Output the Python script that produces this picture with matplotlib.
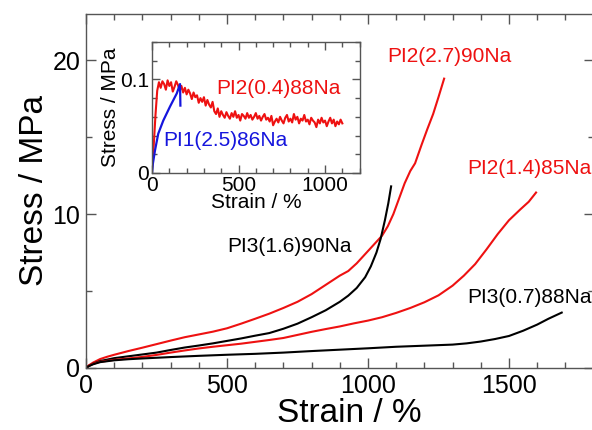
import numpy as np
import matplotlib
matplotlib.use("Agg")
import matplotlib.pyplot as plt
from matplotlib.ticker import MultipleLocator

plt.rcParams['font.family'] = ['Liberation Sans', 'DejaVu Sans']

# ---- main panel data (strain %, stress MPa) ----
pi2_27_x = [0, 10, 25, 50, 75, 100, 150, 200, 250, 300, 350, 400, 450, 500, 550, 600, 650, 700, 750,
            800, 850, 900, 930, 960, 990, 1020, 1050, 1070, 1090, 1110, 1130, 1150, 1167, 1190, 1210,
            1231, 1250, 1270]
pi2_27_y = [0, 0.17, 0.35, 0.58, 0.73, 0.86, 1.1, 1.32, 1.55, 1.78, 2.0, 2.18, 2.36, 2.58, 2.88, 3.2,
            3.53, 3.9, 4.3, 4.8, 5.4, 6.0, 6.3, 6.8, 7.4, 8.0, 8.6, 9.2, 10.0, 11.0, 12.0, 12.8, 13.3,
            14.5, 15.5, 16.5, 17.6, 18.8]

pi3_16_x = [0, 10, 25, 50, 100, 150, 200, 250, 300, 350, 400, 450, 500, 550, 600, 650, 700, 750, 800,
            850, 900, 930, 960, 990, 1010, 1030, 1045, 1060, 1072, 1082]
pi3_16_y = [0, 0.14, 0.28, 0.45, 0.64, 0.76, 0.88, 1.0, 1.17, 1.33, 1.46, 1.6, 1.76, 1.92, 2.1, 2.27,
            2.55, 2.88, 3.3, 3.75, 4.3, 4.7, 5.2, 5.9, 6.6, 7.5, 8.4, 9.6, 10.7, 11.8]

pi2_14_x = [0, 10, 25, 50, 100, 150, 200, 250, 300, 350, 400, 450, 500, 550, 600, 650, 700, 750, 800,
            850, 900, 950, 1000, 1050, 1100, 1150, 1200, 1250, 1300, 1340, 1380, 1420, 1460, 1500, 1540,
            1570, 1596]
pi2_14_y = [0, 0.14, 0.27, 0.40, 0.53, 0.62, 0.72, 0.85, 1.0, 1.14, 1.27, 1.38, 1.48, 1.58, 1.7, 1.82,
            1.95, 2.15, 2.35, 2.53, 2.7, 2.9, 3.08, 3.3, 3.58, 3.9, 4.27, 4.72, 5.35, 6.0, 6.75, 7.7,
            8.7, 9.6, 10.3, 10.8, 11.4]

pi3_07_x = [0, 10, 25, 50, 100, 150, 200, 300, 400, 500, 600, 700, 800, 900, 1000, 1100, 1200, 1300,
            1350, 1400, 1450, 1500, 1550, 1600, 1640, 1687]
pi3_07_y = [0, 0.12, 0.24, 0.38, 0.5, 0.57, 0.62, 0.71, 0.79, 0.86, 0.92, 1.0, 1.1, 1.19, 1.28, 1.38,
            1.45, 1.52, 1.6, 1.72, 1.88, 2.08, 2.42, 2.82, 3.2, 3.6]

main_labels = ["PI2(2.7)90Na", "PI2(1.4)85Na", "PI3(1.6)90Na", "PI3(0.7)88Na"]

# ---- inset data ----
pi1_25_x = [0, 5, 17, 36, 65, 104, 143, 162, 164]
pi1_25_y = [0.0, 0.010, 0.024, 0.042, 0.056, 0.071, 0.085, 0.095, 0.072]

pi2_04_x = list(range(0, 1101, 10))
pi2_04_y = [0.005, 0.030, 0.062, 0.088, 0.097, 0.091, 0.098, 0.095, 0.089, 0.099,
            0.093, 0.097, 0.087, 0.092, 0.098, 0.094, 0.088, 0.093, 0.086, 0.091,
            0.084, 0.089, 0.085, 0.079, 0.086, 0.081, 0.083, 0.075, 0.080, 0.076,
            0.081, 0.072, 0.078, 0.073, 0.070, 0.076, 0.066, 0.063, 0.069, 0.060,
            0.066, 0.062, 0.059, 0.065, 0.061, 0.058, 0.064, 0.060, 0.066, 0.059,
            0.062, 0.056, 0.063, 0.061, 0.058, 0.064, 0.059, 0.062, 0.057, 0.060,
            0.064, 0.058, 0.061, 0.056, 0.060, 0.063, 0.057, 0.059, 0.055, 0.061,
            0.051, 0.055, 0.058, 0.054, 0.060, 0.056, 0.053, 0.059, 0.062, 0.055,
            0.058, 0.054, 0.063, 0.057, 0.060, 0.053, 0.058, 0.056, 0.062, 0.055,
            0.057, 0.052, 0.059, 0.056, 0.054, 0.049, 0.057, 0.053, 0.059, 0.054,
            0.056, 0.050, 0.055, 0.059, 0.053, 0.057, 0.050, 0.055, 0.052, 0.057,
            0.053]

inset_labels = ["PI2(0.4)88Na", "PI1(2.5)86Na"]

RED = '#ee1111'
BLUE = '#1515dd'
SPINE = '#555555'

fig = plt.figure(figsize=(5.92, 4.30), dpi=100)
ax = fig.add_axes([0.14527, 0.14419, 0.8574, 0.82326])

ax.plot(pi2_27_x, pi2_27_y, color=RED, lw=1.5)
ax.plot(pi3_16_x, pi3_16_y, color='black', lw=1.5)
ax.plot(pi2_14_x, pi2_14_y, color=RED, lw=1.5)
ax.plot(pi3_07_x, pi3_07_y, color='black', lw=1.5)

ax.set_xlim(0, 1800)
ax.set_ylim(0, 23)
ax.xaxis.set_major_locator(MultipleLocator(500))
ax.xaxis.set_minor_locator(MultipleLocator(100))
ax.yaxis.set_major_locator(MultipleLocator(10))
ax.yaxis.set_minor_locator(MultipleLocator(5))
ax.tick_params(which='both', direction='in', top=True, right=True, color=SPINE,
               labelsize=18, width=1)
ax.tick_params(which='major', length=7, pad=4)
ax.tick_params(which='minor', length=4)
for s in ax.spines.values():
    s.set_color(SPINE)
    s.set_linewidth(1)
ax.set_xlabel("Strain / %", fontsize=24, labelpad=0)
ax.xaxis.set_label_coords(0.519, -0.085)
ax.set_ylabel("Stress / MPa", fontsize=24, labelpad=2)

ax.text(1067, 20.26, main_labels[0], color=RED, fontsize=15, va='center', ha='left')
ax.text(1351, 12.99, main_labels[1], color=RED, fontsize=15, va='center', ha='left')
ax.text(500, 7.92, main_labels[2], color='black', fontsize=15, va='center', ha='left')
ax.text(1351, 4.61, main_labels[3], color='black', fontsize=15, va='center', ha='left')

# inset
ins = fig.add_axes([0.2568, 0.5977, 0.3507, 0.3047])
ins.plot(pi2_04_x, pi2_04_y, color=RED, lw=1.5)
ins.plot(pi1_25_x, pi1_25_y, color=BLUE, lw=1.6)
ins.set_xlim(0, 1200)
ins.set_ylim(0, 0.14)
ins.xaxis.set_major_locator(MultipleLocator(500))
ins.xaxis.set_minor_locator(MultipleLocator(100))
ins.yaxis.set_minor_locator(MultipleLocator(0.02))
ins.set_yticks([0, 0.1])
ins.set_yticklabels(["0", "0.1"])
ins.tick_params(which='both', direction='in', top=True, right=True, color=SPINE,
                labelsize=15, width=1)
ins.tick_params(which='major', length=6, pad=2)
ins.tick_params(which='minor', length=3.5)
for s in ins.spines.values():
    s.set_color(SPINE)
    s.set_linewidth(1)
ins.set_xlabel("Strain / %", fontsize=15, labelpad=-1)
ins.set_ylabel("Stress / MPa", fontsize=15, labelpad=0)
ins.text(370, 0.0904, inset_labels[0], color=RED, fontsize=15, va='center', ha='left')
ins.text(64, 0.0351, inset_labels[1], color=BLUE, fontsize=15, va='center', ha='left')

fig.savefig("out.png", dpi=100)
